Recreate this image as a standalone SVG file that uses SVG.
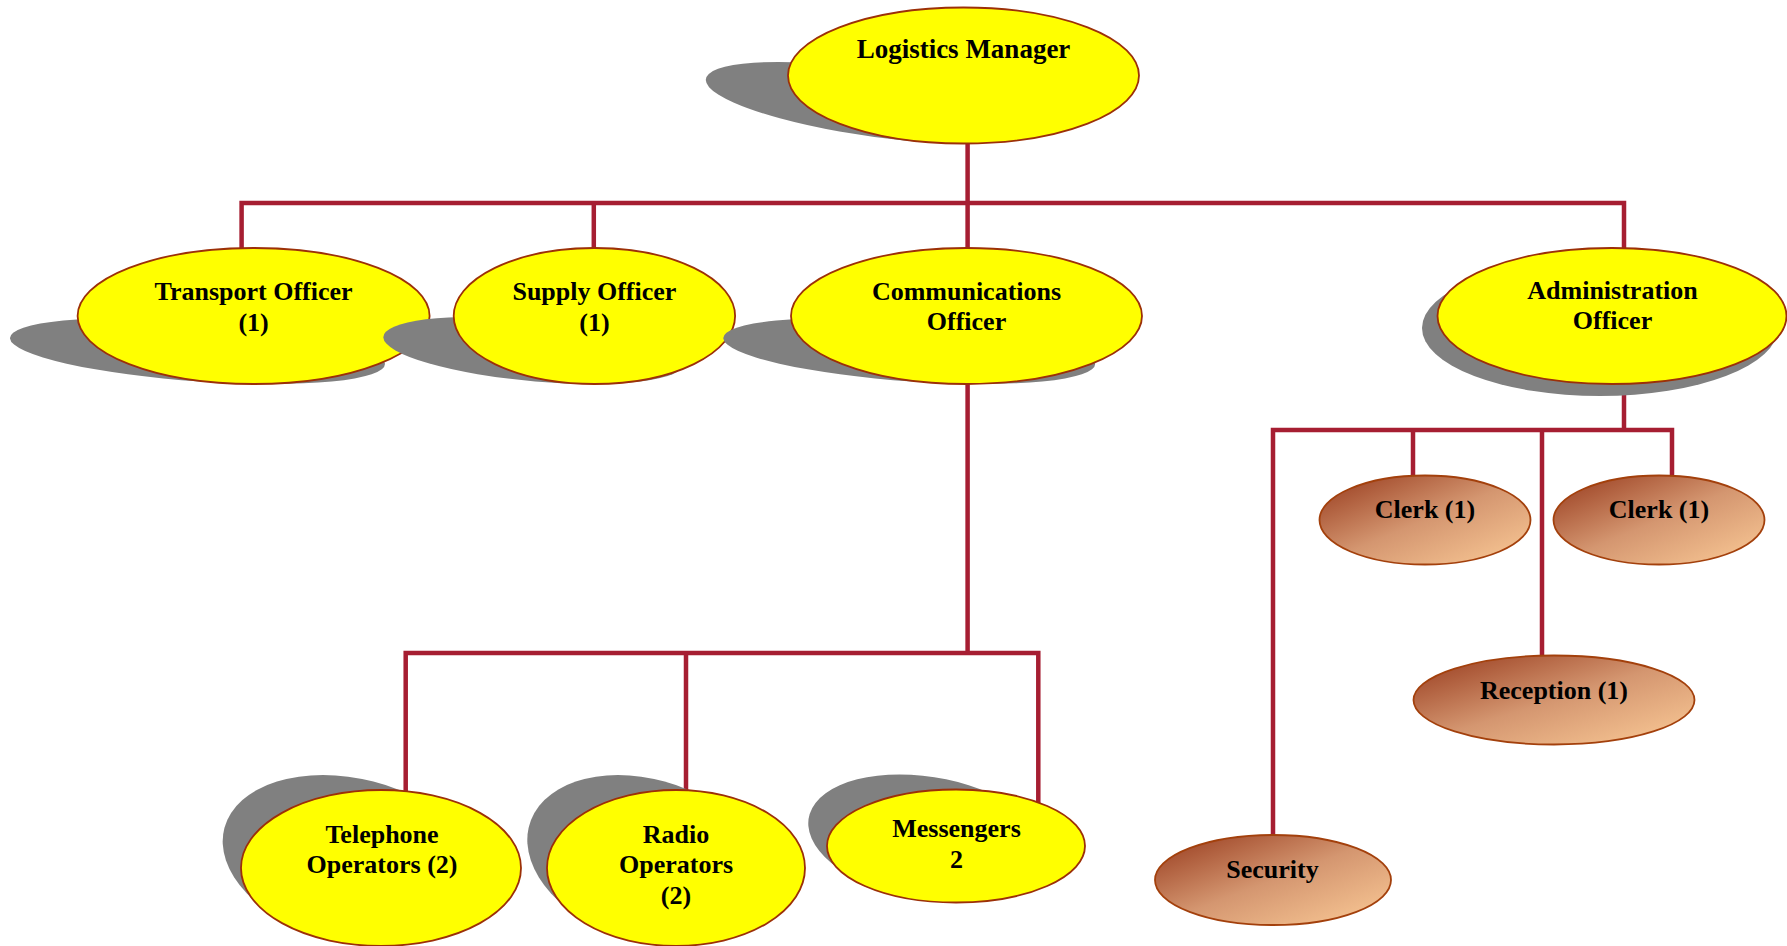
<svg xmlns="http://www.w3.org/2000/svg" width="1787" height="946" viewBox="0 0 1787 946">
  <defs>
    <linearGradient id="brown" x1="0" y1="0" x2="1" y2="1">
      <stop offset="0" stop-color="#96381b"/>
      <stop offset="0.5" stop-color="#d49670"/>
      <stop offset="1" stop-color="#fccc98"/>
    </linearGradient>
    <style>
      .conn { stroke: #a61e32; stroke-width: 4.5; fill: none; stroke-linejoin: miter; }
      .shadow { fill: #808080; }
      .yel { fill: #ffff00; stroke: #9c3008; stroke-width: 1.8; }
      .brn { fill: url(#brown); stroke: #a3400c; stroke-width: 1.8; }
      .lbl { font-family: "Liberation Serif", "Times New Roman", serif; font-weight: bold; font-size: 26px; text-anchor: middle; fill: #000; }
    </style>
  </defs>
  <rect width="1787" height="946" fill="#ffffff"/>

  <!-- connectors -->
  <g id="connectors">
    <path class="conn" d="M241.6,252 V203 H1624 V252"/>
    <path class="conn" d="M593.8,203 V252"/>
    <path class="conn" d="M967.6,140 V252"/>
    <path class="conn" d="M967.6,380 V653"/>
    <path class="conn" d="M405.7,796 V653 H1038.3 V806"/>
    <path class="conn" d="M686,653 V796"/>
    <path class="conn" d="M1624,384 V430"/>
    <path class="conn" d="M1273,840 V430 H1672 V480"/>
    <path class="conn" d="M1413,430 V480"/>
    <path class="conn" d="M1542,430 V660"/>
  </g>

  <!-- top level: shadows are the ellipse flattened and slanted about its bottom point -->
  <g id="logistics-manager">
    <ellipse class="shadow" cx="963.5" cy="75.5" rx="176" ry="68" transform="translate(963.5 143.6) matrix(0.778 0 1.359 0.6 0 0) translate(-963.5 -143.6)"/>
    <ellipse class="yel" cx="963.5" cy="75.5" rx="175.5" ry="68"/>
    <text class="lbl" x="963.5" y="58" style="font-size:27px">Logistics Manager</text>
  </g>

  <!-- officers -->
  <g id="transport-officer">
    <ellipse class="shadow" cx="253.6" cy="316" rx="176" ry="68" transform="translate(271.4 384) matrix(0.979 0 1.087 0.485 0 0) translate(-253.6 -384)"/>
    <ellipse class="yel" cx="253.6" cy="316" rx="176" ry="68"/>
    <text class="lbl" x="253.6" y="300">Transport Officer</text>
    <text class="lbl" x="253.6" y="331">(1)</text>
  </g>

  <g id="supply-officer">
    <ellipse class="shadow" cx="594.4" cy="316" rx="140.7" ry="68" transform="translate(592.4 384) matrix(0.98 0 0.869 0.494 0 0) translate(-594.4 -384)"/>
    <ellipse class="yel" cx="594.4" cy="316" rx="140.7" ry="68"/>
    <text class="lbl" x="594.4" y="300">Supply Officer</text>
    <text class="lbl" x="594.4" y="331">(1)</text>
  </g>

  <g id="communications-officer">
    <ellipse class="shadow" cx="966.5" cy="316" rx="175.5" ry="68" transform="translate(982.4 384) matrix(0.974 0 1.076 0.485 0 0) translate(-966.5 -384)"/>
    <ellipse class="yel" cx="966.5" cy="316" rx="175.5" ry="68"/>
    <text class="lbl" x="966.5" y="300">Communications</text>
    <text class="lbl" x="966.5" y="330">Officer</text>
  </g>

  <g id="administration-officer">
    <ellipse class="shadow" cx="1600" cy="328" rx="178" ry="68"/>
    <ellipse class="yel" cx="1612" cy="316" rx="174.5" ry="68"/>
    <text class="lbl" x="1612.5" y="299">Administration</text>
    <text class="lbl" x="1612.5" y="329">Officer</text>
  </g>

  <!-- communications staff -->
  <g id="telephone-operators">
    <ellipse class="shadow" cx="381" cy="868" rx="140" ry="78" transform="translate(381 946) matrix(0.9 0 0.372 1.096 0 0) translate(-381 -946)"/>
    <ellipse class="yel" cx="381" cy="868" rx="140" ry="78"/>
    <text class="lbl" x="382" y="843">Telephone</text>
    <text class="lbl" x="382" y="873">Operators (2)</text>
  </g>

  <g id="radio-operators">
    <ellipse class="shadow" cx="676" cy="868" rx="129" ry="78" transform="translate(676 946) matrix(0.9 0 0.372 1.096 0 0) translate(-676 -946)"/>
    <ellipse class="yel" cx="676" cy="868" rx="129" ry="78"/>
    <text class="lbl" x="676" y="843">Radio</text>
    <text class="lbl" x="676" y="873">Operators</text>
    <text class="lbl" x="676" y="904">(2)</text>
  </g>

  <g id="messengers">
    <ellipse class="shadow" cx="956" cy="846" rx="129" ry="56.5" transform="translate(956 902.5) matrix(0.9 0 0.5 1.133 0 0) translate(-956 -902.5)"/>
    <ellipse class="yel" cx="956" cy="846" rx="129" ry="56.5"/>
    <text class="lbl" x="956.5" y="837">Messengers</text>
    <text class="lbl" x="956.5" y="868">2</text>
  </g>

  <!-- administration staff -->
  <g id="clerk-1">
    <ellipse class="brn" cx="1425" cy="520" rx="105.5" ry="44.5"/>
    <text class="lbl" x="1425" y="518">Clerk (1)</text>
  </g>

  <g id="clerk-2">
    <ellipse class="brn" cx="1659" cy="520" rx="105.5" ry="44.5"/>
    <text class="lbl" x="1659" y="518">Clerk (1)</text>
  </g>

  <g id="reception">
    <ellipse class="brn" cx="1554" cy="700" rx="140.5" ry="44.5"/>
    <text class="lbl" x="1554" y="699">Reception (1)</text>
  </g>

  <g id="security">
    <ellipse class="brn" cx="1273" cy="880" rx="118" ry="45"/>
    <text class="lbl" x="1272.5" y="878">Security</text>
  </g>
</svg>
